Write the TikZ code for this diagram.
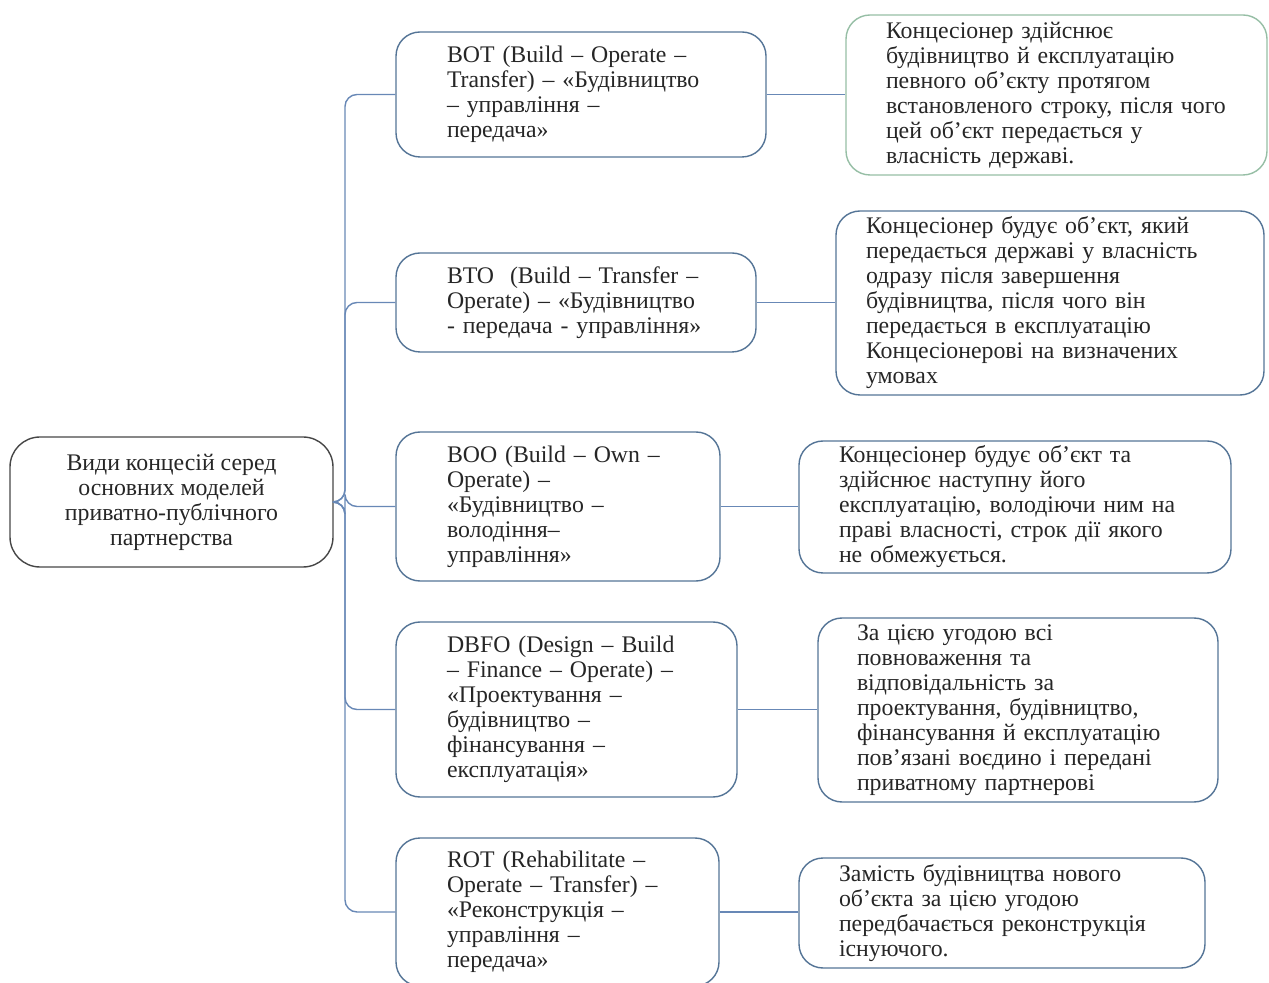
\documentclass[tikz,border=0pt]{standalone}
\usepackage{fontspec}
\setmainfont{Liberation Serif}
\definecolor{boxline}{RGB}{84,116,150}
\definecolor{linkline}{RGB}{104,136,182}
\definecolor{greenline}{RGB}{150,190,165}
\definecolor{mainline}{RGB}{70,70,70}
\begin{document}
\begin{tikzpicture}[x=0.5pt, y=-0.5pt,
  every node/.style={font=\fontsize{11.9}{12.5}\selectfont, text=black!85},
  kind/.style={draw=boxline, line width=0.7pt, rounded corners=12pt, align=left, inner sep=0pt},
  note/.style={kind},
  link/.style={draw=linkline, line width=0.7pt, rounded corners=6pt}]
\useasboundingbox (0,0) rectangle (1269,983);
% root
\node[draw=mainline, line width=0.7pt, rounded corners=15pt, align=center,
      minimum width=161.5pt, minimum height=65pt] (main) at (171.5,502)
  {Види концесій серед\\основних моделей\\приватно-публічного\\партнерства};
% models
\node[kind, minimum width=185pt, minimum height=62.5pt, text width=134pt] (bot) at (581,94.5)
  {BOT (Build – Operate –\\Transfer) – «Будівництво\\– управління –\\передача»};
\node[kind, minimum width=180pt, minimum height=49.5pt, text width=129pt] (bto) at (576,302.5)
  {BTO\ \ (Build – Transfer –\\Operate) – «Будівництво\\- передача - управління»};
\node[kind, minimum width=162pt, minimum height=74.5pt, text width=111pt] (boo) at (558,506.5)
  {BOO (Build – Own –\\Operate) –\\«Будівництво –\\володіння–\\управління»};
\node[kind, minimum width=170.5pt, minimum height=87.5pt, text width=119.5pt] (dbfo) at (566.5,709.5)
  {DBFO (Design – Build\\– Finance – Operate) –\\«Проектування –\\будівництво –\\фінансування –\\експлуатація»};
\node[kind, minimum width=161.5pt, minimum height=74pt, text width=110.5pt] (rot) at (557.5,912)
  {ROT (Rehabilitate –\\Operate – Transfer) –\\«Реконструкція –\\управління –\\передача»};
% descriptions
\node[note, draw=greenline, minimum width=210.5pt, minimum height=80pt, text width=170.5pt] (d1) at (1056.5,95)
  {Концесіонер здійснює\\будівництво й експлуатацію\\певного об’єкту протягом\\встановленого строку, після чого\\цей об’єкт передається у\\власність державі.};
\node[note, minimum width=214pt, minimum height=92pt, text width=184pt] (d2) at (1050,303)
  {Концесіонер будує об’єкт, який\\передається державі у власність\\одразу після завершення\\будівництва, після чого він\\передається в експлуатацію\\Концесіонерові на визначених\\умовах};
\node[note, minimum width=216pt, minimum height=66pt, text width=176pt] (d3) at (1015,507)
  {Концесіонер будує об’єкт та\\здійснює наступну його\\експлуатацію, володіючи ним на\\праві власності, строк дії якого\\не обмежується.};
\node[note, minimum width=200pt, minimum height=92pt, text width=161pt] (d4) at (1018,710)
  {За цією угодою всі\\повноваження та\\відповідальність за\\проектування, будівництво,\\фінансування й експлуатацію\\пов’язані воєдино і передані\\приватному партнерові};
\node[note, minimum width=203pt, minimum height=55pt, text width=163pt] (d5) at (1002,913)
  {Замість будівництва нового\\об’єкта за цією угодою\\передбачається реконструкція\\існуючого.};
% connectors
\coordinate (trunk) at (345,502);
\foreach \m in {bot,bto,boo,dbfo,rot}
  \draw[link] (main.east) -- (trunk) |- (\m.west);
\foreach \m/\d in {bot/d1,bto/d2,boo/d3,dbfo/d4,rot/d5}
  \draw[link] (\m.east) -- (\m.east -| \d.west);
\end{tikzpicture}
\end{document}
